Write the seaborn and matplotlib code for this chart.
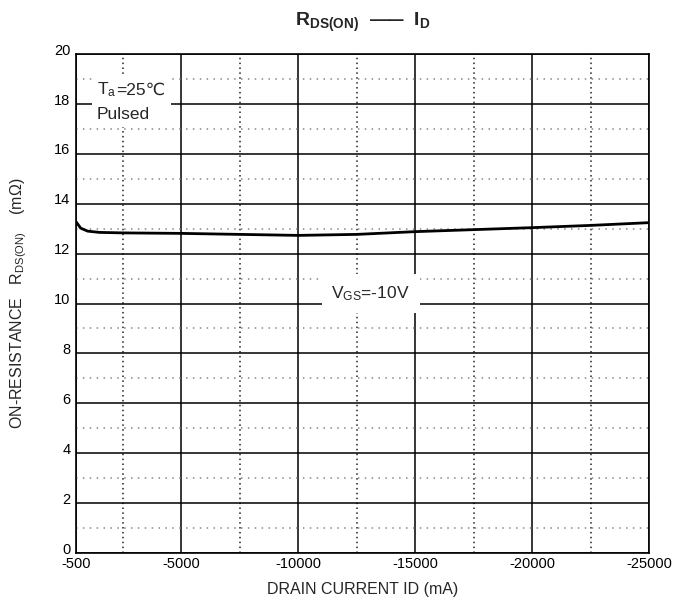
import matplotlib
matplotlib.use("Agg")
import matplotlib.pyplot as plt
import matplotlib.transforms as mtransforms
import seaborn as sns
import pandas as pd
from matplotlib.ticker import FixedLocator
from matplotlib.offsetbox import TextArea, HPacker, VPacker, AnnotationBbox

# Data
drain_current_ma = [-500, -700, -1000, -1500, -2500, -5000, -7500, -10000,
                    -12500, -15000, -17500, -20000, -22500, -25000]
rds_on_mohm = [13.28, 13.02, 12.90, 12.85, 12.83, 12.81, 12.77, 12.73,
               12.77, 12.88, 12.96, 13.04, 13.13, 13.24]

x_major = [-500, -5000, -10000, -15000, -20000, -25000]
x_minor = [-2500, -7500, -12500, -17500, -22500]
y_major = list(range(0, 21, 2))
y_minor = list(range(1, 20, 2))

df = pd.DataFrame({"ID": drain_current_ma, "RDS": rds_on_mohm})

sns.set_style("white")
plt.rcParams["font.family"] = ["Liberation Sans", "DejaVu Sans"]
plt.rcParams["mathtext.fontset"] = "custom"
plt.rcParams["mathtext.rm"] = "Liberation Sans"
plt.rcParams["mathtext.bf"] = "Liberation Sans:bold"
plt.rcParams["mathtext.it"] = "Liberation Sans"

fig = plt.figure(figsize=(6.73, 6.02), dpi=100)
ax = fig.add_axes([76 / 673, 49 / 602, 573 / 673, 499 / 602])

sns.lineplot(data=df, x="ID", y="RDS", ax=ax, color="black", linewidth=2.0, zorder=5)

ax.set_xlim(-500, -25000)
ax.set_ylim(0, 20)
ax.xaxis.set_major_locator(FixedLocator(x_major))
ax.xaxis.set_minor_locator(FixedLocator(x_minor))
ax.yaxis.set_major_locator(FixedLocator(y_major))
ax.yaxis.set_minor_locator(FixedLocator(y_minor))
ax.set_xticklabels([str(v) for v in x_major])
ax.set_yticklabels([str(v) for v in y_major])

ax.grid(which="major", axis="both", color="black", linewidth=1.1, linestyle="-")
ax.grid(which="minor", axis="x", color="#222222", linewidth=1.1, linestyle=(0, (1, 2.2)))
ax.grid(which="minor", axis="y", color="#888888", linewidth=1.1, linestyle=(0, (1, 3.5)))
ax.set_axisbelow(True)

ax.tick_params(which="both", length=0, labelsize=10.5, colors="black")
ax.tick_params(axis="x", pad=3)
ax.tick_params(axis="y", pad=4)
offset = mtransforms.ScaledTranslation(0, 3.5 / 72, fig.dpi_scale_trans)
for lab in ax.get_yticklabels():
    lab.set_transform(lab.get_transform() + offset)

for s in ax.spines.values():
    s.set_color("black")
    s.set_linewidth(1.2)

ax.set_xlabel("DRAIN CURRENT ID (mA)", fontsize=11.5, labelpad=8)
ax.set_ylabel(r"ON-RESISTANCE   $\mathregular{R_{DS(ON)}}$    (m$\mathregular{\Omega}$)",
              fontsize=11.5, labelpad=18)
ax.set_title(r"$\mathbf{R_{DS(ON)}}$  $\mathbf{—\!\!—}$  $\mathbf{I_D}$",
             fontsize=14, pad=20)

# Ta = 25 ℃ / Pulsed annotation (built from pieces so ℃ falls back to DejaVu)
fs = 12.5
t_Ta = TextArea(r"T$_\mathregular{a}$", textprops=dict(fontsize=fs))
t_rest = TextArea("=25℃", textprops=dict(fontsize=fs))
line1 = HPacker(children=[t_Ta, t_rest], pad=0, sep=0, align="baseline")
line2 = TextArea("Pulsed", textprops=dict(fontsize=fs))
box = VPacker(children=[line1, line2], pad=0, sep=6, align="left")
ab = AnnotationBbox(box, (-1400, 18.1), xycoords="data", box_alignment=(0, 0.5),
                    frameon=True, pad=0.35, zorder=6,
                    bboxprops=dict(facecolor="white", edgecolor="none"))
ax.add_artist(ab)

ax.text(-13100, 10.4, r"V$_\mathregular{GS}$=-10V", fontsize=12.5, ha="center",
        va="center", zorder=6,
        bbox=dict(facecolor="white", edgecolor="none", pad=7))

fig.savefig("out.png", dpi=100, facecolor="white")
